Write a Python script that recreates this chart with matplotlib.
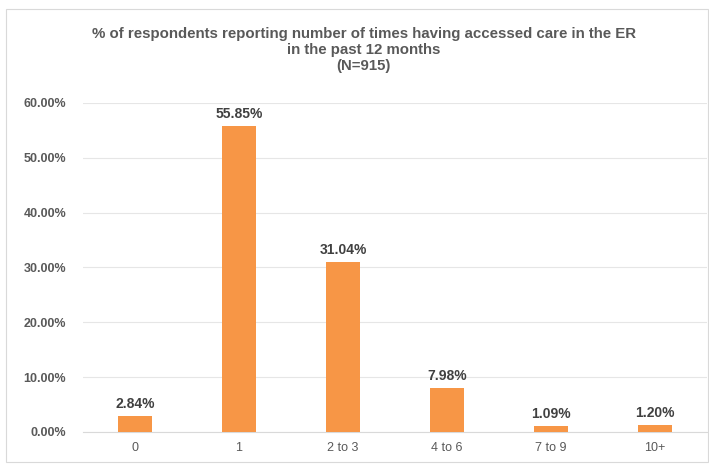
import matplotlib
matplotlib.use("Agg")
import matplotlib.pyplot as plt
from matplotlib.patches import Rectangle
from matplotlib.ticker import FuncFormatter

plt.rcParams['font.family'] = ['Liberation Sans', 'DejaVu Sans']

# data
categories = ['0', '1', '2 to 3', '4 to 6', '7 to 9', '10+']
percent = [2.84, 55.85, 31.04, 7.98, 1.09, 1.20]

bar_color = '#F79646'
text_color = '#595959'

fig = plt.figure(figsize=(7.09, 4.68), dpi=100)
fig.patches.append(Rectangle((0.008, 0.012), 0.990, 0.968, transform=fig.transFigure,
                             fill=False, edgecolor='#D9D9D9', linewidth=0.8))
ax = fig.add_axes([0.117, 0.077, 0.880, 0.703])

x = range(len(categories))
bars = ax.bar(x, percent, width=0.33, color=bar_color, zorder=3)

for xi, v in zip(x, percent):
    ax.text(xi, v + 0.9, '%.2f%%' % v, ha='center', va='bottom',
            fontsize=10, fontweight='bold', color='#404040')

ax.set_xlim(-0.5, len(categories) - 0.5)
ax.set_ylim(0, 60)
ax.set_yticks([0, 10, 20, 30, 40, 50, 60])
ax.yaxis.set_major_formatter(FuncFormatter(lambda v, p: '%.2f%%' % v))
ax.set_xticks(list(x))
ax.set_xticklabels(categories)
ax.tick_params(axis='both', length=0, colors=text_color, labelsize=9)
ax.tick_params(axis='y', pad=12)
ax.tick_params(axis='x', pad=7)
for lab in ax.get_yticklabels():
    lab.set_fontweight('bold')

ax.grid(axis='y', color='#E6E6E6', linewidth=0.8, zorder=0)
for s in ['top', 'right', 'left']:
    ax.spines[s].set_visible(False)
ax.spines['bottom'].set_color('#D9D9D9')

fig.text(0.513, 0.893, '% of respondents reporting number of times having accessed care in the ER\n'
         'in the past 12 months\n(N=915)', ha='center', va='center',
         fontsize=10.8, fontweight='bold', color=text_color, linespacing=1.2)

fig.savefig('out.png', dpi=100)
